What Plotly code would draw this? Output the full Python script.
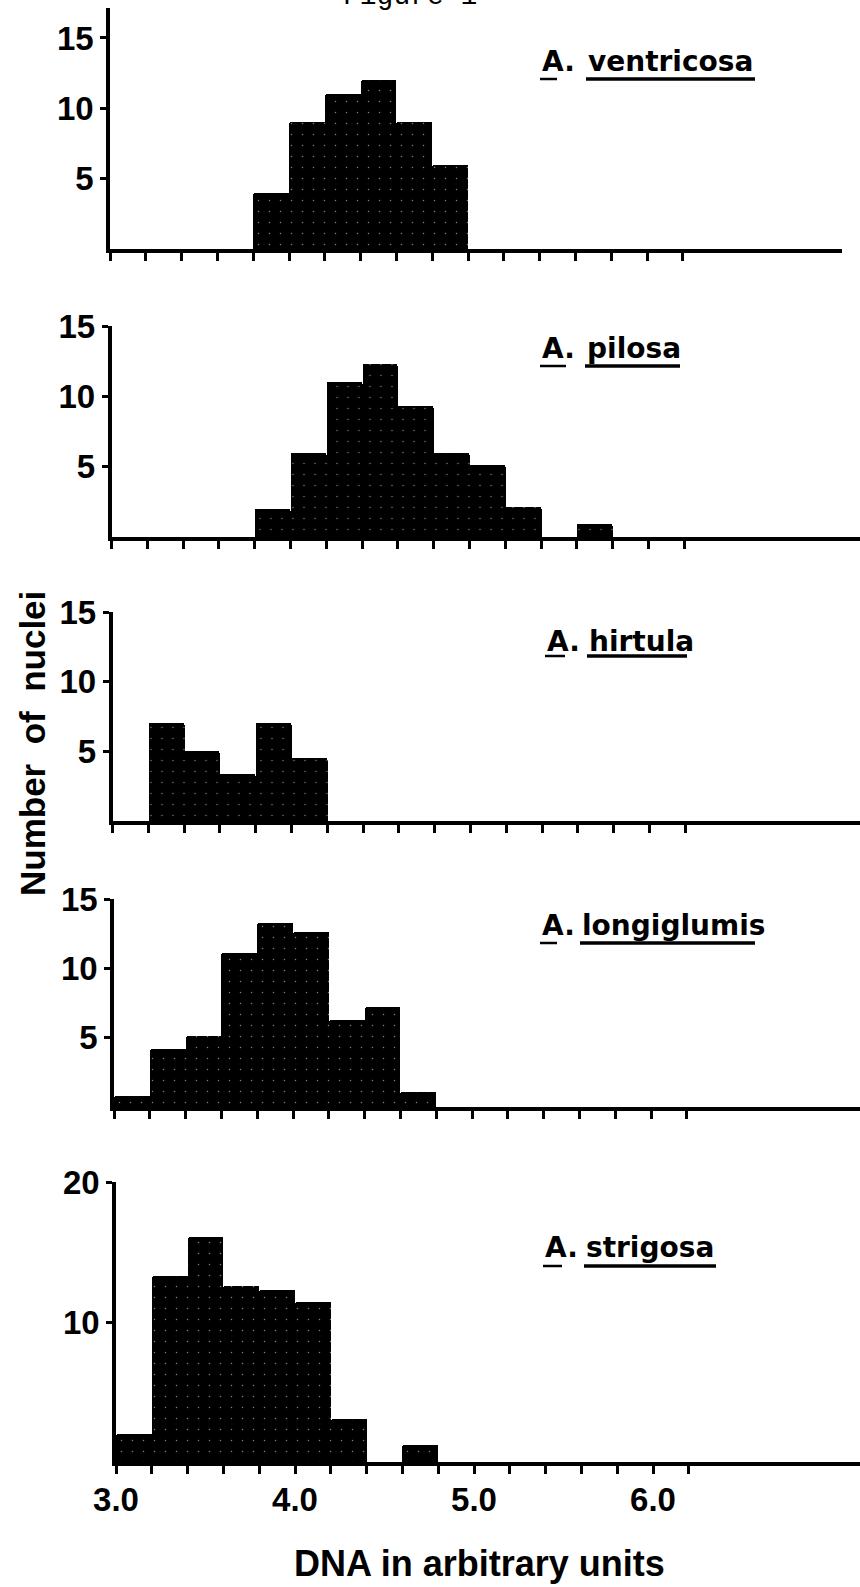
import plotly.graph_objects as go

# ---- data: DNA class centres (arbitrary units) and number of nuclei per class ----
species_names = ["ventricosa", "pilosa", "hirtula", "longiglumis", "strigosa"]

ventricosa_dna = [3.9, 4.1, 4.3, 4.5, 4.7, 4.9]
ventricosa_nuclei = [4, 9, 11, 12, 9, 6]

pilosa_dna = [3.9, 4.1, 4.3, 4.5, 4.7, 4.9, 5.1, 5.3, 5.5, 5.7]
pilosa_nuclei = [2, 6, 11, 12.3, 9.3, 6, 5.1, 2.1, 0, 0.9]

hirtula_dna = [3.3, 3.5, 3.7, 3.9, 4.1]
hirtula_nuclei = [7, 5, 3.4, 7, 4.5]

longiglumis_dna = [3.1, 3.3, 3.5, 3.7, 3.9, 4.1, 4.3, 4.5, 4.7]
longiglumis_nuclei = [0.8, 4.2, 5.1, 11.1, 13.3, 12.6, 6.3, 7.2, 1.1]

strigosa_dna = [3.1, 3.3, 3.5, 3.7, 3.9, 4.1, 4.3, 4.5, 4.7]
strigosa_nuclei = [2, 13.3, 16.1, 12.6, 12.3, 11.4, 3.05, 0, 1.2]

x_tickvals = [3.0, 3.2, 3.4, 3.6, 3.8, 4.0, 4.2, 4.4, 4.6, 4.8,
              5.0, 5.2, 5.4, 5.6, 5.8, 6.0, 6.2]
x_ticktext = ["3.0", "", "", "", "", "4.0", "", "", "", "",
              "5.0", "", "", "", "", "6.0", ""]
y_tickvals_small = [5, 10, 15]
y_tickvals_large = [10, 20]

series = [
    (ventricosa_dna, ventricosa_nuclei),
    (pilosa_dna, pilosa_nuclei),
    (hirtula_dna, hirtula_nuclei),
    (longiglumis_dna, longiglumis_nuclei),
    (strigosa_dna, strigosa_nuclei),
]

# ---- page geometry (pixels) ----
W, H = 860, 1587
PX_PER_UNIT = 179          # horizontal pixels per DNA unit
BIN = 0.2

# left edge (value 3.0), right end, top of y axis, baseline, y max, y ticks
frames = [
    dict(x0=110, x1=842, top=8, base=249, ymax=17.13, yt=y_tickvals_small),
    dict(x0=111.5, x1=860, top=326, base=537, ymax=15, yt=y_tickvals_small),
    dict(x0=112.5, x1=860, top=612, base=821, ymax=15, yt=y_tickvals_small),
    dict(x0=114, x1=860, top=899, base=1107, ymax=15, yt=y_tickvals_small),
    dict(x0=116, x1=860, top=1182, base=1462, ymax=20, yt=y_tickvals_large),
]

# species label placement: y of text centre, underline y, underline spans
labels = [
    dict(y=62, uy=79, a=(540, 557), s=(586, 755)),
    dict(y=349, uy=366, a=(540, 566), s=(585, 680)),
    dict(y=641, uy=656, a=(545, 565), s=(587, 687)),
    dict(y=926, uy=943, a=(540, 557), s=(580, 755)),
    dict(y=1247, uy=1266, a=(543, 562), s=(584, 716)),
]

BOLD_SANS = "Liberation Sans"
LABEL_FONT = "DejaVu Sans"

fig = go.Figure()

for i, (dna, nuclei) in enumerate(series, start=1):
    sfx = "" if i == 1 else str(i)
    fig.add_trace(go.Bar(
        x=dna, y=nuclei, width=BIN,
        xaxis="x" + sfx, yaxis="y" + sfx,
        marker=dict(
            color="black",
            line=dict(width=0),
            cornerradius=2,
            pattern=dict(shape=".", fgcolor="white", bgcolor="black",
                         size=11, solidity=0.015),
        ),
        hoverinfo="skip",
    ))

layout_axes = {}
for i, f in enumerate(frames, start=1):
    sfx = "" if i == 1 else str(i)
    bottom = (i == len(frames))
    layout_axes["xaxis" + sfx] = dict(
        domain=[f["x0"] / W, f["x1"] / W],
        range=[3.0, 3.0 + (f["x1"] - f["x0"]) / PX_PER_UNIT],
        anchor="y" + sfx, automargin=False,
        showline=True, linecolor="black", linewidth=4,
        ticks="outside", ticklen=8, tickwidth=3, tickcolor="black",
        tickmode="array", tickvals=x_tickvals, ticktext=x_ticktext,
        showticklabels=bottom, ticklabelstandoff=-3,
        tickfont=dict(family=BOLD_SANS, size=33, color="black", weight="bold"),
        showgrid=False, zeroline=False, fixedrange=True,
    )
    layout_axes["yaxis" + sfx] = dict(
        domain=[1 - f["base"] / H, 1 - f["top"] / H],
        range=[0, f["ymax"]],
        anchor="x" + sfx, automargin=False,
        showline=True, linecolor="black", linewidth=3.5,
        ticks="outside", ticklen=6, tickwidth=3, tickcolor="black",
        tickmode="array", tickvals=f["yt"],
        tickfont=dict(family=BOLD_SANS, size=33, color="black", weight="bold"),
        showgrid=False, zeroline=False, fixedrange=True,
    )

annotations = []
shapes = []
for name, lab in zip(species_names, labels):
    annotations.append(dict(
        text="A.", x=lab["a"][0] / W, y=1 - lab["y"] / H,
        xref="paper", yref="paper", xanchor="left", yanchor="middle",
        showarrow=False,
        font=dict(family=LABEL_FONT, size=28, color="black", weight="bold"),
    ))
    annotations.append(dict(
        text=name, x=lab["s"][0] / W, y=1 - lab["y"] / H,
        xref="paper", yref="paper", xanchor="left", yanchor="middle",
        showarrow=False,
        font=dict(family=LABEL_FONT, size=28, color="black", weight="bold"),
    ))
    for (xa, xb), lw in ((lab["a"], 2.5), (lab["s"], 3.5)):
        shapes.append(dict(
            type="line", xref="paper", yref="paper",
            x0=xa / W, x1=xb / W, y0=1 - lab["uy"] / H, y1=1 - lab["uy"] / H,
            line=dict(color="black", width=lw),
        ))

# axis titles and the page heading
annotations.append(dict(
    text="Number\u00a0 of\u00a0 nuclei", textangle=-90,
    x=32 / W, y=1 - 744 / H, xref="paper", yref="paper",
    xanchor="center", yanchor="middle", showarrow=False,
    font=dict(family=BOLD_SANS, size=35, color="black", weight="bold"),
))
annotations.append(dict(
    text="DNA in arbitrary units",
    x=479 / W, y=1 - 1563 / H, xref="paper", yref="paper",
    xanchor="center", yanchor="middle", showarrow=False,
    font=dict(family=BOLD_SANS, size=36, color="black", weight="bold"),
))
annotations.append(dict(
    text="Figure 1",
    x=410 / W, y=1 + 3 / H, xref="paper", yref="paper",
    xanchor="center", yanchor="middle", showarrow=False,
    font=dict(family="Liberation Mono", size=28, color="black"),
))

fig.update_layout(
    width=W, height=H,
    margin=dict(l=0, r=0, t=0, b=0, autoexpand=False),
    paper_bgcolor="white", plot_bgcolor="white",
    showlegend=False, bargap=0,
    annotations=annotations, shapes=shapes,
    **layout_axes,
)

fig.write_html("out.html")
